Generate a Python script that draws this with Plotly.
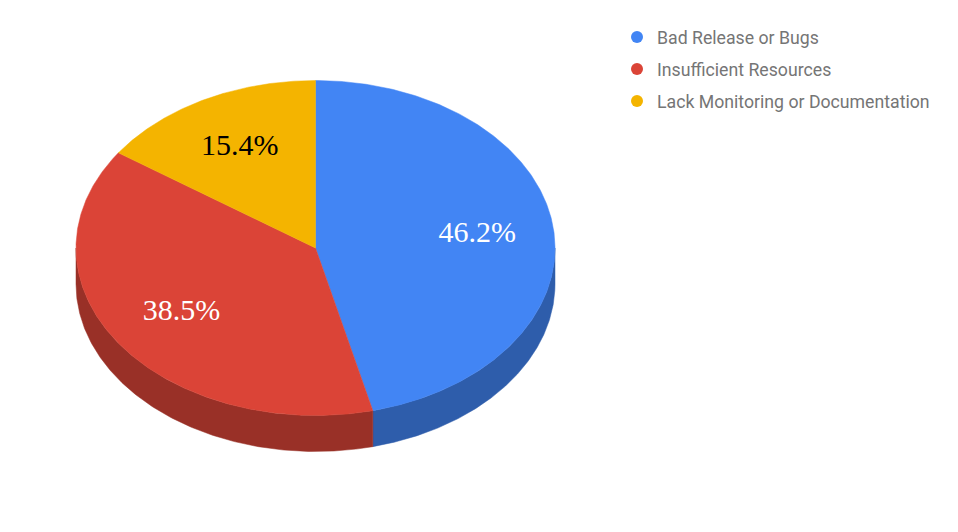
import numpy as np
import plotly.graph_objects as go

categories = ["Bad Release or Bugs", "Insufficient Resources", "Lack Monitoring or Documentation"]
values = [6, 5, 2]
top_colors = ["#4285f4", "#db4437", "#f4b400"]
side_colors = ["#2e5dab", "#993027", "#aa7e00"]
label_colors = ["#ffffff", "#ffffff", "#000000"]

W, H = 958, 532
OFF = 8  # page body margin
cx, cy = 315.5, 248.0
rx, ry = 239.5, 167.5
depth = 36.0
label_r = 0.68

total = float(sum(values))
fracs = [v / total for v in values]
bounds = np.concatenate([[0.0], np.cumsum(fracs)]) * 360.0


def pt(theta_deg, dy=0.0, scale=1.0):
    t = np.radians(theta_deg)
    return cx + scale * rx * np.sin(t), cy - scale * ry * np.cos(t) + dy


fig = go.Figure()

# side walls (visible from 90 deg to 270 deg)
for i in range(len(values)):
    a, b = bounds[i], bounds[i + 1]
    lo, hi = max(a, 90.0), min(b, 270.0)
    if hi <= lo:
        continue
    th = np.linspace(lo, hi, 200)
    xt, yt = pt(th)
    xb, yb = pt(th[::-1], depth)
    xs = np.concatenate([xt, xb, xt[:1]])
    ys = np.concatenate([yt, yb, yt[:1]])
    fig.add_trace(go.Scatter(x=xs, y=ys, mode="lines", fill="toself",
                             fillcolor=side_colors[i],
                             line=dict(color=side_colors[i], width=0.5),
                             hoverinfo="skip", showlegend=False))

# top faces
for i in range(len(values)):
    a, b = bounds[i], bounds[i + 1]
    th = np.linspace(a, b, 300)
    xa, ya = pt(th)
    xs = np.concatenate([[cx], xa, [cx]])
    ys = np.concatenate([[cy], ya, [cy]])
    fig.add_trace(go.Scatter(x=xs, y=ys, mode="lines", fill="toself",
                             fillcolor=top_colors[i],
                             line=dict(color=top_colors[i], width=0.5),
                             hoverinfo="skip", showlegend=False))

# percentage labels
mids = (bounds[:-1] + bounds[1:]) / 2.0
lx, ly = pt(mids, 0.0, label_r)
fig.add_trace(go.Scatter(x=lx, y=ly, mode="text",
                         text=[f"{f*100:.1f}%" for f in fracs],
                         textfont=dict(family="Liberation Serif", size=30, color=label_colors),
                         hoverinfo="skip", showlegend=False))

# legend entries
for i, name in enumerate(categories):
    fig.add_trace(go.Scatter(x=[None], y=[None], mode="markers", name=name,
                             marker=dict(symbol="circle", size=12, color=top_colors[i]),
                             legendgroup=str(i)))

fig.update_layout(
    width=W, height=H,
    margin=dict(l=0, r=0, t=0, b=0),
    paper_bgcolor="white", plot_bgcolor="white",
    xaxis=dict(range=[OFF, W + OFF], visible=False, fixedrange=True),
    yaxis=dict(range=[H + OFF, OFF], visible=False, fixedrange=True),
    legend=dict(x=(617 - OFF) / W, y=1 - (19 - OFF) / H, xanchor="left", yanchor="top",
                font=dict(family="Roboto", size=17.7, color="#757575"),
                bgcolor="rgba(0,0,0,0)", tracegroupgap=6,
                itemsizing="constant"),
)

fig.write_html("out.html")
